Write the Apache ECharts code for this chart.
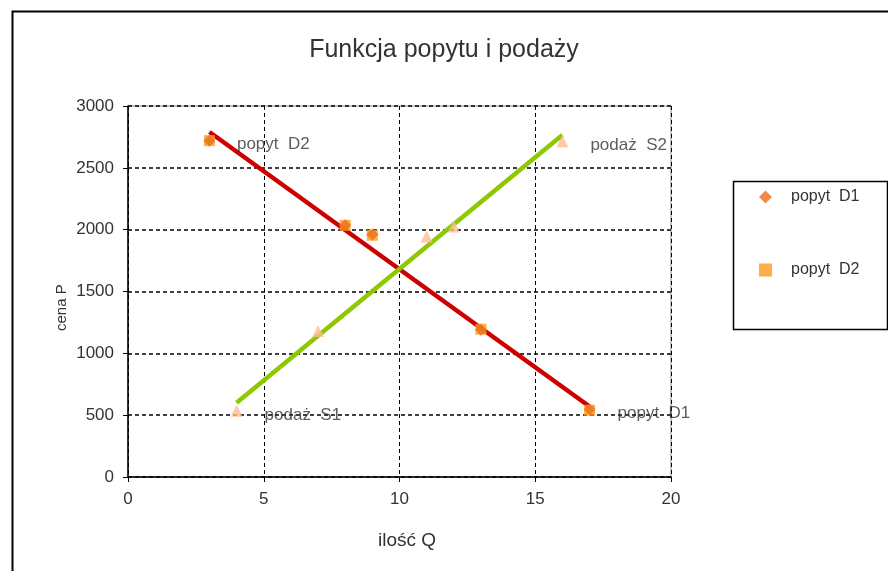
<!DOCTYPE html>
<html>
<head>
<meta charset="utf-8">
<script src="https://cdn.jsdelivr.net/npm/echarts@6/dist/echarts.min.js"></script>
<style>
html,body{margin:0;padding:0;background:#fff;}
#main{width:888px;height:571px;}
</style>
</head>
<body>
<div id="main"></div>
<script>
const titleText = 'Funkcja popytu i podaży';
const xName = 'ilość Q';
const yName = 'cena P';
const demandQ = [3, 8, 9, 13, 17];
const demandP1 = [2720, 2035, 1960, 1190, 545];
const demandP2 = [2720, 2035, 1955, 1195, 540];
const supplyQ = [4, 7, 11, 12, 16];
const supplyP = [535, 1180, 1945, 2025, 2715];
const demandLabels1 = ['', '', '', '', 'popyt  D1'];
const demandLabels2 = ['popyt  D2', '', '', '', ''];
const supplyLabels = ['podaż  S1', '', '', '', 'podaż  S2'];
const demandTrendQ = [3, 17];
const demandTrendP = [2790, 570];
const supplyTrendQ = [4, 16];
const supplyTrendP = [600, 2765];
const legendNames = ['popyt  D1', 'popyt  D2'];

const FONT = 'Liberation Sans, Arial, sans-serif';
const TXT = '#333';
function pts(xs, ys, labels) {
  return xs.map((x, i) => {
    const o = { value: [x, ys[i]] };
    if (labels && labels[i]) {
      o.label = { show: true, formatter: labels[i] };
    }
    return o;
  });
}
const labelStyle = {
  show: false, position: 'right', distance: 22, offset: [0, 4],
  color: TXT, fontSize: 17, fontFamily: FONT
};

const chart = echarts.init(document.getElementById('main'));
chart.setOption({
  backgroundColor: '#fff',
  animation: false,
  title: {
    text: titleText, left: 'center', top: 33,
    textStyle: { fontFamily: FONT, fontSize: 25, fontWeight: 'normal', color: TXT }
  },
  graphic: [
    { type: 'rect', left: 10, top: 9, shape: { width: 900, height: 600 },
      style: { fill: 'none', stroke: '#000', lineWidth: 2 }, silent: true },
    { type: 'rect', left: 731, top: 179, shape: { width: 154, height: 148 },
      style: { fill: 'none', stroke: '#000', lineWidth: 1.5 }, silent: true },
    { type: 'text', left: 378, top: 531,
      style: { text: xName, fontFamily: FONT, fontSize: 19, fill: TXT } },
    { type: 'text', x: 54, y: 331, rotation: Math.PI / 2,
      style: { text: yName, fontFamily: FONT, fontSize: 15, fill: TXT } }
  ],
  legend: {
    data: [{ name: legendNames[0], icon: 'diamond' }, { name: legendNames[1], icon: 'rect' }],
    orient: 'vertical', left: 754, top: 184, itemGap: 57,
    itemWidth: 13, itemHeight: 13,
    textStyle: { fontFamily: FONT, fontSize: 16, color: TXT, padding: [0, 0, 0, 14] }
  },
  grid: { left: 128, right: 217, top: 106, bottom: 94, show: true, borderColor: '#888', borderWidth: 1 },
  xAxis: {
    type: 'value', min: 0, max: 20, interval: 5,
    axisLine: { show: true, onZero: false, lineStyle: { color: '#000', width: 1.5 } },
    axisTick: { show: true, length: 5, lineStyle: { color: '#000' } },
    axisLabel: { fontFamily: FONT, fontSize: 17, color: TXT, margin: 14 },
    splitLine: { show: true, lineStyle: { color: '#000', type: [4, 3], width: 1 } }
  },
  yAxis: {
    type: 'value', min: 0, max: 3000, interval: 500,
    axisLine: { show: true, onZero: false, lineStyle: { color: '#000', width: 1.5 } },
    axisTick: { show: true, length: 5, lineStyle: { color: '#000' } },
    axisLabel: { fontFamily: FONT, fontSize: 17, color: TXT, margin: 14, formatter: v => String(v) },
    splitLine: { show: true, lineStyle: { color: '#000', type: [4, 3], width: 1.5 } }
  },
  series: [
    { name: 'trend D', type: 'line', data: demandTrendQ.map((x, i) => [x, demandTrendP[i]]),
      symbol: 'none', lineStyle: { color: '#CC0000', width: 4.5 }, z: 2 },
    { name: 'trend S', type: 'line', data: supplyTrendQ.map((x, i) => [x, supplyTrendP[i]]),
      symbol: 'none', lineStyle: { color: '#8DC800', width: 4.5 }, z: 2 },
    { name: 'podaż', type: 'scatter', data: pts(supplyQ, supplyP, supplyLabels),
      symbol: 'triangle', symbolSize: 12, itemStyle: { color: '#FFBE90' },
      label: labelStyle, z: 3 },
    { name: legendNames[1], type: 'scatter', data: pts(demandQ, demandP2, demandLabels2),
      symbol: 'rect', symbolSize: 11, itemStyle: { color: '#FF9A1A' },
      label: labelStyle, z: 3 },
    { name: legendNames[0], type: 'scatter', data: pts(demandQ, demandP1, demandLabels1),
      symbol: 'diamond', symbolSize: 12, itemStyle: { color: '#E8701A' },
      label: labelStyle, z: 4 }
  ]
});
</script>
</body>
</html>
